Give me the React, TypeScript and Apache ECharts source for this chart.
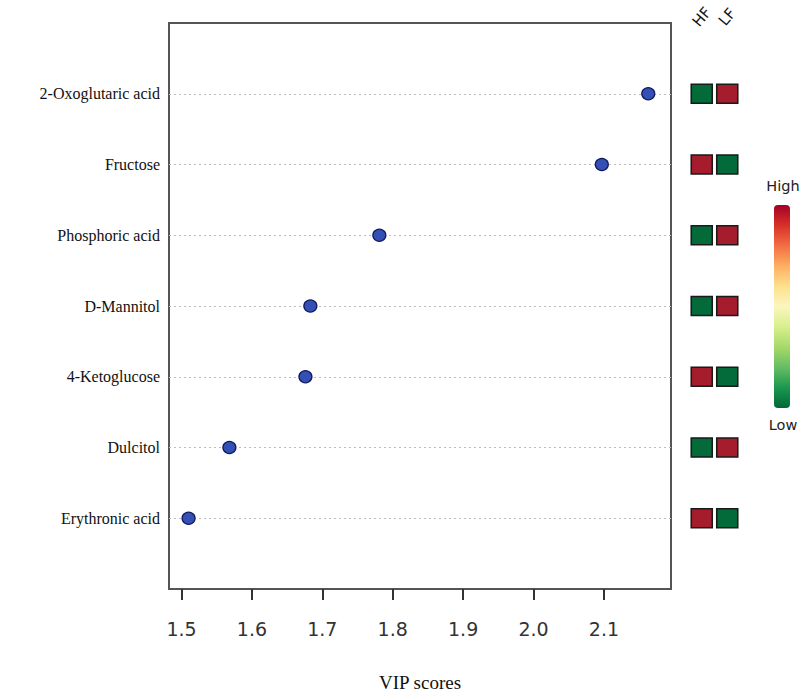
import React, { useEffect, useRef } from "react";
import * as echarts from "echarts";

const metabolites = [
  "2-Oxoglutaric acid",
  "Fructose",
  "Phosphoric acid",
  "D-Mannitol",
  "4-Ketoglucose",
  "Dulcitol",
  "Erythronic acid",
];
const vipScores = [2.163, 2.097, 1.781, 1.683, 1.676, 1.568, 1.51];
const groups = ["HF", "LF"];
// 1 = High, 0 = Low
const hfLevel = [0, 1, 0, 0, 1, 0, 1];
const lfLevel = [1, 0, 1, 1, 0, 1, 0];
const xTicks = [1.5, 1.6, 1.7, 1.8, 1.9, 2.0, 2.1];
const legendText = ["High", "Low"];
const colorScale = ["#a50026", "#d73027", "#f46d43", "#fdae61", "#fee08b", "#fbf6c0", "#d9ef8b", "#a6d96a", "#66bd63", "#1a9850", "#006837"];

export default function App() {
  const ref = useRef<HTMLDivElement>(null);
  useEffect(() => {
    if (!ref.current) return;
    const chart = echarts.init(ref.current, null, { renderer: "svg" });
    const n = metabolites.length;
    const yPos = (i: number) => n - i;
    const dots = vipScores.map((v, i) => [v, yPos(i)]);
    const high = "#a51d2d";
    const low = "#036b3a";
    const cells: any[] = [];
    metabolites.forEach((_, i) => {
      cells.push({ value: [0, yPos(i)], itemStyle: { color: hfLevel[i] ? high : low } });
      cells.push({ value: [1, yPos(i)], itemStyle: { color: lfLevel[i] ? high : low } });
    });
    const stops = colorScale.map((c, i) => ({ offset: i / (colorScale.length - 1), color: c }));
    chart.setOption({
      animation: false,
      backgroundColor: "#ffffff",
      grid: [
        { left: 169, top: 23, width: 502, height: 566, outerBoundsMode: "none", show: true, borderColor: "#555", borderWidth: 2, backgroundColor: "transparent" },
        { left: 689, top: 23, width: 51, height: 566, outerBoundsMode: "none" },
      ],
      xAxis: [
        {
          gridIndex: 0,
          type: "value",
          min: 1.4822,
          max: 2.1953,
          axisLine: { show: true, onZero: false, lineStyle: { color: "#555", width: 2 } },
          axisTick: { show: true, customValues: xTicks, length: 11, lineStyle: { color: "#333", width: 2 } },
          splitLine: { show: false },
          axisLabel: {
            customValues: xTicks,
            formatter: (v: number) => v.toFixed(1),
            fontFamily: "DejaVu Sans",
            fontSize: 19,
            color: "#333",
            margin: 30,
          },
          name: "VIP scores",
          nameLocation: "middle",
          nameGap: 84,
          nameTextStyle: { fontFamily: "Liberation Serif", fontSize: 19, color: "#111" },
        },
        {
          gridIndex: 1,
          type: "category",
          data: groups,
          position: "top",
          axisLine: { show: false },
          axisTick: { show: false },
          axisLabel: {
            rotate: 50,
            align: "center",
            verticalAlign: "middle",
            fontFamily: "DejaVu Sans",
            fontSize: 15,
            color: "#111",
            margin: 6,
          },
        },
      ],
      yAxis: [
        {
          gridIndex: 0,
          type: "value",
          min: 0,
          max: n + 1,
          interval: 1,
          axisLine: { show: true, onZero: false, lineStyle: { color: "#555", width: 2 } },
          axisTick: { show: false },
          splitLine: { show: false },
          axisLabel: {
            formatter: (v: number) => (v >= 1 && v <= n ? metabolites[n - v] : ""),
            fontFamily: "Liberation Serif",
            fontSize: 16,
            color: "#111",
            margin: 9,
          },
        },
        {
          gridIndex: 1,
          type: "value",
          min: 0,
          max: n + 1,
          show: false,
        },
      ],
      graphic: [
        {
          type: "rect",
          shape: { x: 774, y: 205, width: 16, height: 203, r: 4 },
          style: { fill: new echarts.graphic.LinearGradient(0, 0, 0, 1, stops) },
        },
        {
          type: "text",
          x: 783,
          y: 186,
          style: { text: legendText[0], fontFamily: "DejaVu Sans", fontSize: 14.5, fill: "#222", align: "center", verticalAlign: "middle" },
        },
        {
          type: "text",
          x: 783,
          y: 425,
          style: { text: legendText[1], fontFamily: "DejaVu Sans", fontSize: 14.5, fill: "#222", align: "center", verticalAlign: "middle" },
        },
      ],
      series: [
        {
          type: "scatter",
          xAxisIndex: 0,
          yAxisIndex: 0,
          data: dots,
          symbol: "circle",
          symbolSize: [13, 12],
          z: 3,
          itemStyle: { color: "#3550b5", borderColor: "#0f1a5c", borderWidth: 1.2, opacity: 1 },
          markLine: {
            silent: true,
            symbol: "none",
            label: { show: false },
            lineStyle: { color: "#bdbdbd", type: [2, 3], width: 1.2 },
            data: metabolites.map((_, i) => ({ yAxis: yPos(i) })),
            z: 1,
          },
        },
        {
          type: "scatter",
          xAxisIndex: 1,
          yAxisIndex: 1,
          data: cells,
          symbol: "rect",
          symbolSize: [21, 19],
          itemStyle: { borderColor: "#1a1a1a", borderWidth: 1.5, opacity: 1 },
        },
      ],
    });
    return () => chart.dispose();
  }, []);
  return <div ref={ref} style={{ position: "absolute", left: 0, top: 0, width: 802, height: 692 }} />;
}
